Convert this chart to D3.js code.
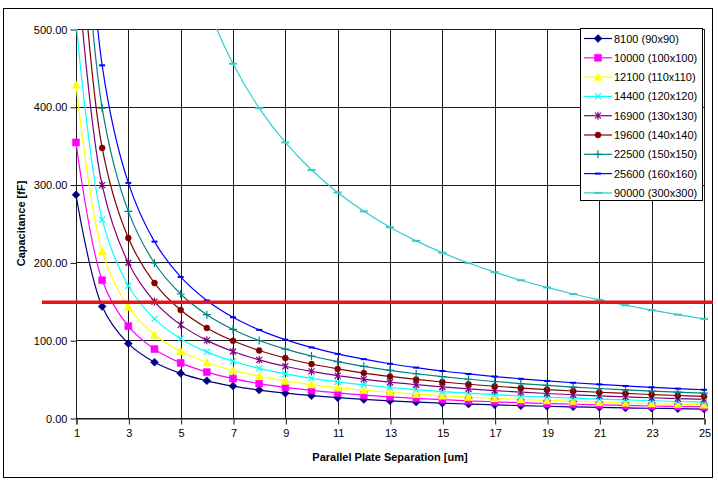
<!DOCTYPE html>
<html><head><meta charset="utf-8">
<script src="https://cdn.jsdelivr.net/npm/d3@7"></script>
<style>body{margin:0;background:#fff;}svg{display:block;font-family:"Liberation Sans",Arial,sans-serif;}</style>
</head><body>
<svg id="chart" width="718" height="480"></svg>
<script>
const separations = [1,2,3,4,5,6,7,8,9,10,11,12,13,14,15,16,17,18,19,20,21,22,23,24,25];
const seriesNames = ["8100 (90x90)","10000 (100x100)","12100 (110x110)","14400 (120x120)","16900 (130x130)","19600 (140x140)","22500 (150x150)","25600 (160x160)","90000 (300x300)"];
const s8100  = [286.9,143.4,95.6,71.7,57.4,47.8,41.0,35.9,31.9,28.7,26.1,23.9,22.1,20.5,19.1,17.9,16.9,15.9,15.1,14.3,13.7,13.0,12.5,12.0,11.5];
const s10000 = [354.2,177.1,118.1,88.5,70.8,59.0,50.6,44.3,39.4,35.4,32.2,29.5,27.2,25.3,23.6,22.1,20.8,19.7,18.6,17.7,16.9,16.1,15.4,14.8,14.2];
const s12100 = [428.5,214.3,142.8,107.1,85.7,71.4,61.2,53.6,47.6,42.9,39.0,35.7,33.0,30.6,28.6,26.8,25.2,23.8,22.6,21.4,20.4,19.5,18.6,17.9,17.1];
const s14400 = [510.0,255.0,170.0,127.5,102.0,85.0,72.9,63.7,56.7,51.0,46.4,42.5,39.2,36.4,34.0,31.9,30.0,28.3,26.8,25.5,24.3,23.2,22.2,21.2,20.4];
const s16900 = [598.5,299.3,199.5,149.6,119.7,99.8,85.5,74.8,66.5,59.9,54.4,49.9,46.0,42.8,39.9,37.4,35.2,33.3,31.5,29.9,28.5,27.2,26.0,24.9,23.9];
const s19600 = [694.2,347.1,231.4,173.5,138.8,115.7,99.2,86.8,77.1,69.4,63.1,57.8,53.4,49.6,46.3,43.4,40.8,38.6,36.5,34.7,33.1,31.6,30.2,28.9,27.8];
const s22500 = [796.9,398.4,265.6,199.2,159.4,132.8,113.8,99.6,88.5,79.7,72.4,66.4,61.3,56.9,53.1,49.8,46.9,44.3,41.9,39.8,37.9,36.2,34.6,33.2,31.9];
const s25600 = [906.7,453.3,302.2,226.7,181.3,151.1,129.5,113.3,100.7,90.7,82.4,75.6,69.7,64.8,60.4,56.7,53.3,50.4,47.7,45.3,43.2,41.2,39.4,37.8,36.3];
const s90000 = [3187.4,1593.7,1062.5,796.9,637.5,531.2,455.3,398.4,354.2,318.7,289.8,265.6,245.2,227.7,212.5,199.2,187.5,177.1,167.8,159.4,151.8,144.9,138.6,132.8,127.5];
const xTicks = [1,3,5,7,9,11,13,15,17,19,21,23,25];
const yTicks = [0,100,200,300,400,500];
const thresholdValue = 150;

const seriesValues = [s8100,s10000,s12100,s14400,s16900,s19600,s22500,s25600,s90000];
const colors = ["#000080","#FF00FF","#FFFF00","#00FFFF","#800080","#800000","#008080","#0000FF","#33CCCC"];
const markers = ["diamond","square","triangle","x","star","circle","plus","dash","longdash"];

const svg = d3.select("#chart");
const L = 76, R = 704, T = 29, B = 418;
const x = d3.scaleLinear().domain([1,25]).range([L,R]);
const y = d3.scaleLinear().domain([0,500]).range([B,T]);

// outer border
svg.append("rect").attr("x",3.5).attr("y",8.5).attr("width",709).attr("height",469)
  .attr("fill","#fff").attr("stroke","#000").attr("stroke-width",1);

// gridlines
const g = svg.append("g");
g.selectAll(".hg").data(yTicks).join("line")
  .attr("x1",L).attr("x2",R).attr("y1",d=>Math.round(y(d))+0.5).attr("y2",d=>Math.round(y(d))+0.5)
  .attr("stroke","#1a1a1a").attr("stroke-width",1);
g.selectAll(".vg").data(xTicks).join("line")
  .attr("x1",d=>Math.round(x(d))+0.5).attr("x2",d=>Math.round(x(d))+0.5).attr("y1",T).attr("y2",B)
  .attr("stroke","#1a1a1a").attr("stroke-width",1);

// axes
const yAxis = d3.axisLeft(y).tickValues(yTicks).tickSize(6).tickPadding(3).tickFormat(d3.format(".2f"));
const xAxis = d3.axisBottom(x).tickValues(xTicks).tickSize(6).tickPadding(5).tickFormat(d3.format("d"));
const ya = svg.append("g").attr("transform",`translate(${L+0.5},0.5)`).call(yAxis);
const xa = svg.append("g").attr("transform",`translate(0.5,${B+0.5})`).call(xAxis);
[ya,xa].forEach(a=>{
  a.select(".domain").attr("stroke","#1a1a1a");
  a.selectAll(".tick line").attr("stroke","#1a1a1a");
  a.selectAll("text").attr("font-size",11).attr("fill","#000").attr("font-family","Liberation Sans, Arial, sans-serif");
});
ya.select(".domain").attr("d",`M0,${T-0.5}V${B}`);

// clip
svg.append("clipPath").attr("id","plotclip").append("rect").attr("x",L-6).attr("y",T).attr("width",R-L+12).attr("height",B-T+6);

function markerPath(type){
  switch(type){
    case "diamond": return "M0,-4L4,0L0,4L-4,0Z";
    case "square": return "M-3.5,-3.5H3.5V3.5H-3.5Z";
    case "triangle": return "M0,-4L4,3.5H-4Z";
    case "x": return "M-3,-3L3,3M-3,3L3,-3";
    case "star": return "M-3,-3L3,3M-3,3L3,-3M0,-4V4";
    case "circle": return d3.symbol(d3.symbolCircle, 28)();
    case "plus": return "M-4,0H4M0,-4V4";
    case "dash": return "M-3,0H3";
    case "longdash": return "M-4,0H4";
  }
}
const filled = {diamond:true,square:true,triangle:true,circle:true};

const line = d3.line().x((d,i)=>x(separations[i])).y(d=>y(d)).curve(d3.curveCatmullRom.alpha(0.5));
const plot = svg.append("g").attr("clip-path","url(#plotclip)");
const clipLine = svg.append("clipPath").attr("id","lineclip").append("rect").attr("x",L).attr("y",T).attr("width",R-L+1).attr("height",B-T);

seriesValues.forEach((vals,si)=>{
  plot.append("path").attr("d",line(vals)).attr("fill","none").attr("stroke",colors[si]).attr("stroke-width",1.2)
    .attr("clip-path","url(#lineclip)");
});
seriesValues.forEach((vals,si)=>{
  const m = markers[si];
  plot.selectAll(null).data(vals.map((v,i)=>({x:separations[i],v})).filter(d=>d.v<=500)).join("path")
    .attr("transform",d=>`translate(${x(d.x)},${y(d.v)})`)
    .attr("d",markerPath(m))
    .attr("fill",filled[m]?colors[si]:"none")
    .attr("stroke",colors[si]).attr("stroke-width",filled[m]?0.5:(m==="dash"||m==="longdash"?2:1.2));
});

// threshold line
svg.append("line").attr("x1",42).attr("x2",713).attr("y1",y(thresholdValue)+1).attr("y2",y(thresholdValue)+1)
  .attr("stroke","#E8141B").attr("stroke-width",3.5);

// legend
const lg = svg.append("g");
lg.append("rect").attr("x",580.5).attr("y",28.5).attr("width",122).attr("height",172).attr("fill","#fff").attr("stroke","#000");
seriesNames.forEach((n,i)=>{
  const yy = 38.5 + i*19.3;
  lg.append("line").attr("x1",584).attr("x2",612).attr("y1",yy).attr("y2",yy).attr("stroke",colors[i]).attr("stroke-width",1.2);
  const m = markers[i];
  lg.append("path").attr("transform",`translate(598,${yy})`).attr("d",markerPath(m))
    .attr("fill",filled[m]?colors[i]:"none").attr("stroke",colors[i])
    .attr("stroke-width",filled[m]?0.5:(m==="dash"||m==="longdash"?2:1.2));
  lg.append("text").attr("x",614).attr("y",yy+4).attr("font-size",11).text(n);
});

// titles
svg.append("text").attr("x",(L+R)/2).attr("y",461).attr("text-anchor","middle")
  .attr("font-size",11).attr("font-weight","bold").text("Parallel Plate Separation [um]");
svg.append("text").attr("transform",`translate(25,${(T+B)/2}) rotate(-90)`).attr("text-anchor","middle")
  .attr("font-size",11).attr("font-weight","bold").text("Capacitance [fF]");
</script>
</body></html>
